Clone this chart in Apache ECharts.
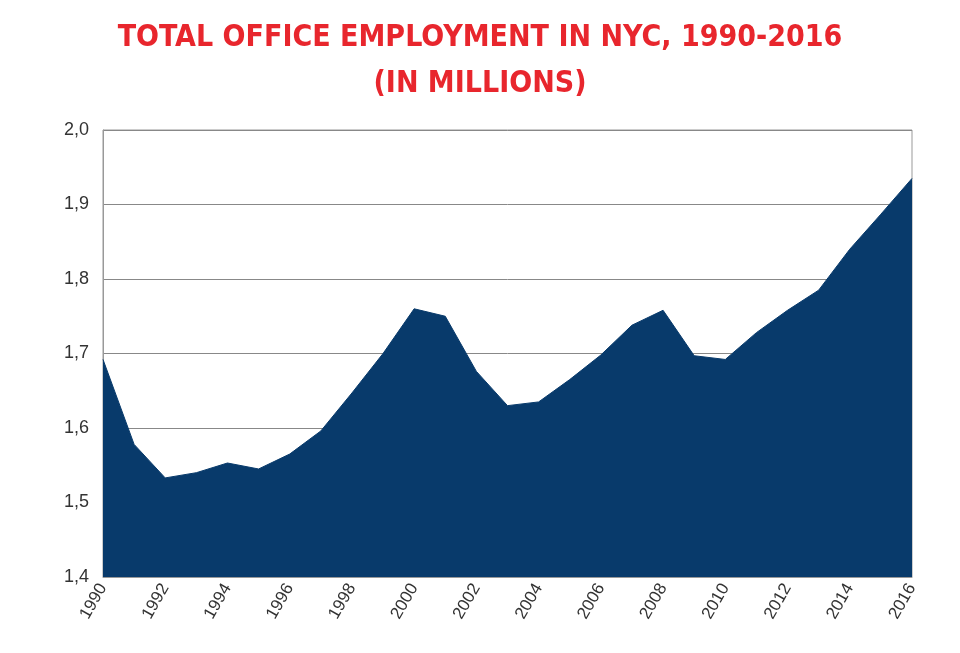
<!DOCTYPE html>
<html>
<head>
<meta charset="utf-8">
<script src="https://cdn.jsdelivr.net/npm/echarts@6/dist/echarts.min.js"></script>
<style>
  html, body { margin: 0; padding: 0; background: #fff; }
  #main { width: 960px; height: 653px; }
</style>
</head>
<body>
<div id="main"></div>
<script>
// years and office employment (millions)
const years = ['1990','1991','1992','1993','1994','1995','1996','1997','1998','1999','2000','2001','2002',
  '2003','2004','2005','2006','2007','2008','2009','2010','2011','2012','2013','2014','2015','2016'];
const employment = [1.692, 1.578, 1.533, 1.540, 1.553, 1.545, 1.565, 1.596, 1.647, 1.700, 1.760, 1.750, 1.676,
  1.630, 1.635, 1.665, 1.698, 1.738, 1.758, 1.697, 1.692, 1.728, 1.758, 1.785, 1.840, 1.887, 1.935];

const chart = echarts.init(document.getElementById('main'));

chart.setOption({
    backgroundColor: '#fff',
    title: {
        text: 'TOTAL OFFICE EMPLOYMENT IN NYC, 1990-2016\n(IN MILLIONS)',
        left: 'center',
        top: 10,
        textStyle: {
            color: '#e8262d',
            fontFamily: 'Liberation Sans Narrow, DejaVu Sans Condensed, sans-serif',
            fontWeight: 'bold',
            fontSize: 30,
            lineHeight: 46
        }
    },
    grid: { left: 103, right: 48, top: 130, bottom: 76, show: true, borderColor: '#999', borderWidth: 1 },
    xAxis: {
        type: 'category',
        data: years,
        boundaryGap: false,
        axisLine: { lineStyle: { color: '#999' } },
        axisTick: { show: false },
        axisLabel: {
            interval: 1,
            rotate: 60,
            color: '#333',
            fontSize: 17,
            fontFamily: 'Liberation Sans Narrow, sans-serif',
            margin: 8
        }
    },
    yAxis: {
        type: 'value',
        min: 1.4,
        max: 2.0,
        interval: 0.1,
        axisLine: { show: true, lineStyle: { color: '#999' } },
        axisTick: { show: false },
        splitLine: { lineStyle: { color: '#888', width: 1 } },
        axisLabel: {
            color: '#333',
            fontSize: 18,
            fontFamily: 'Liberation Sans Narrow, sans-serif',
            margin: 14,
            formatter: v => v.toFixed(1).replace('.', ',')
        }
    },
    series: [{
        type: 'line',
        data: employment,
        symbol: 'none',
        lineStyle: { color: '#083a6b', width: 1 },
        areaStyle: { color: '#083a6b', opacity: 1 },
        z: 1
    }]
});
</script>
</body>
</html>
